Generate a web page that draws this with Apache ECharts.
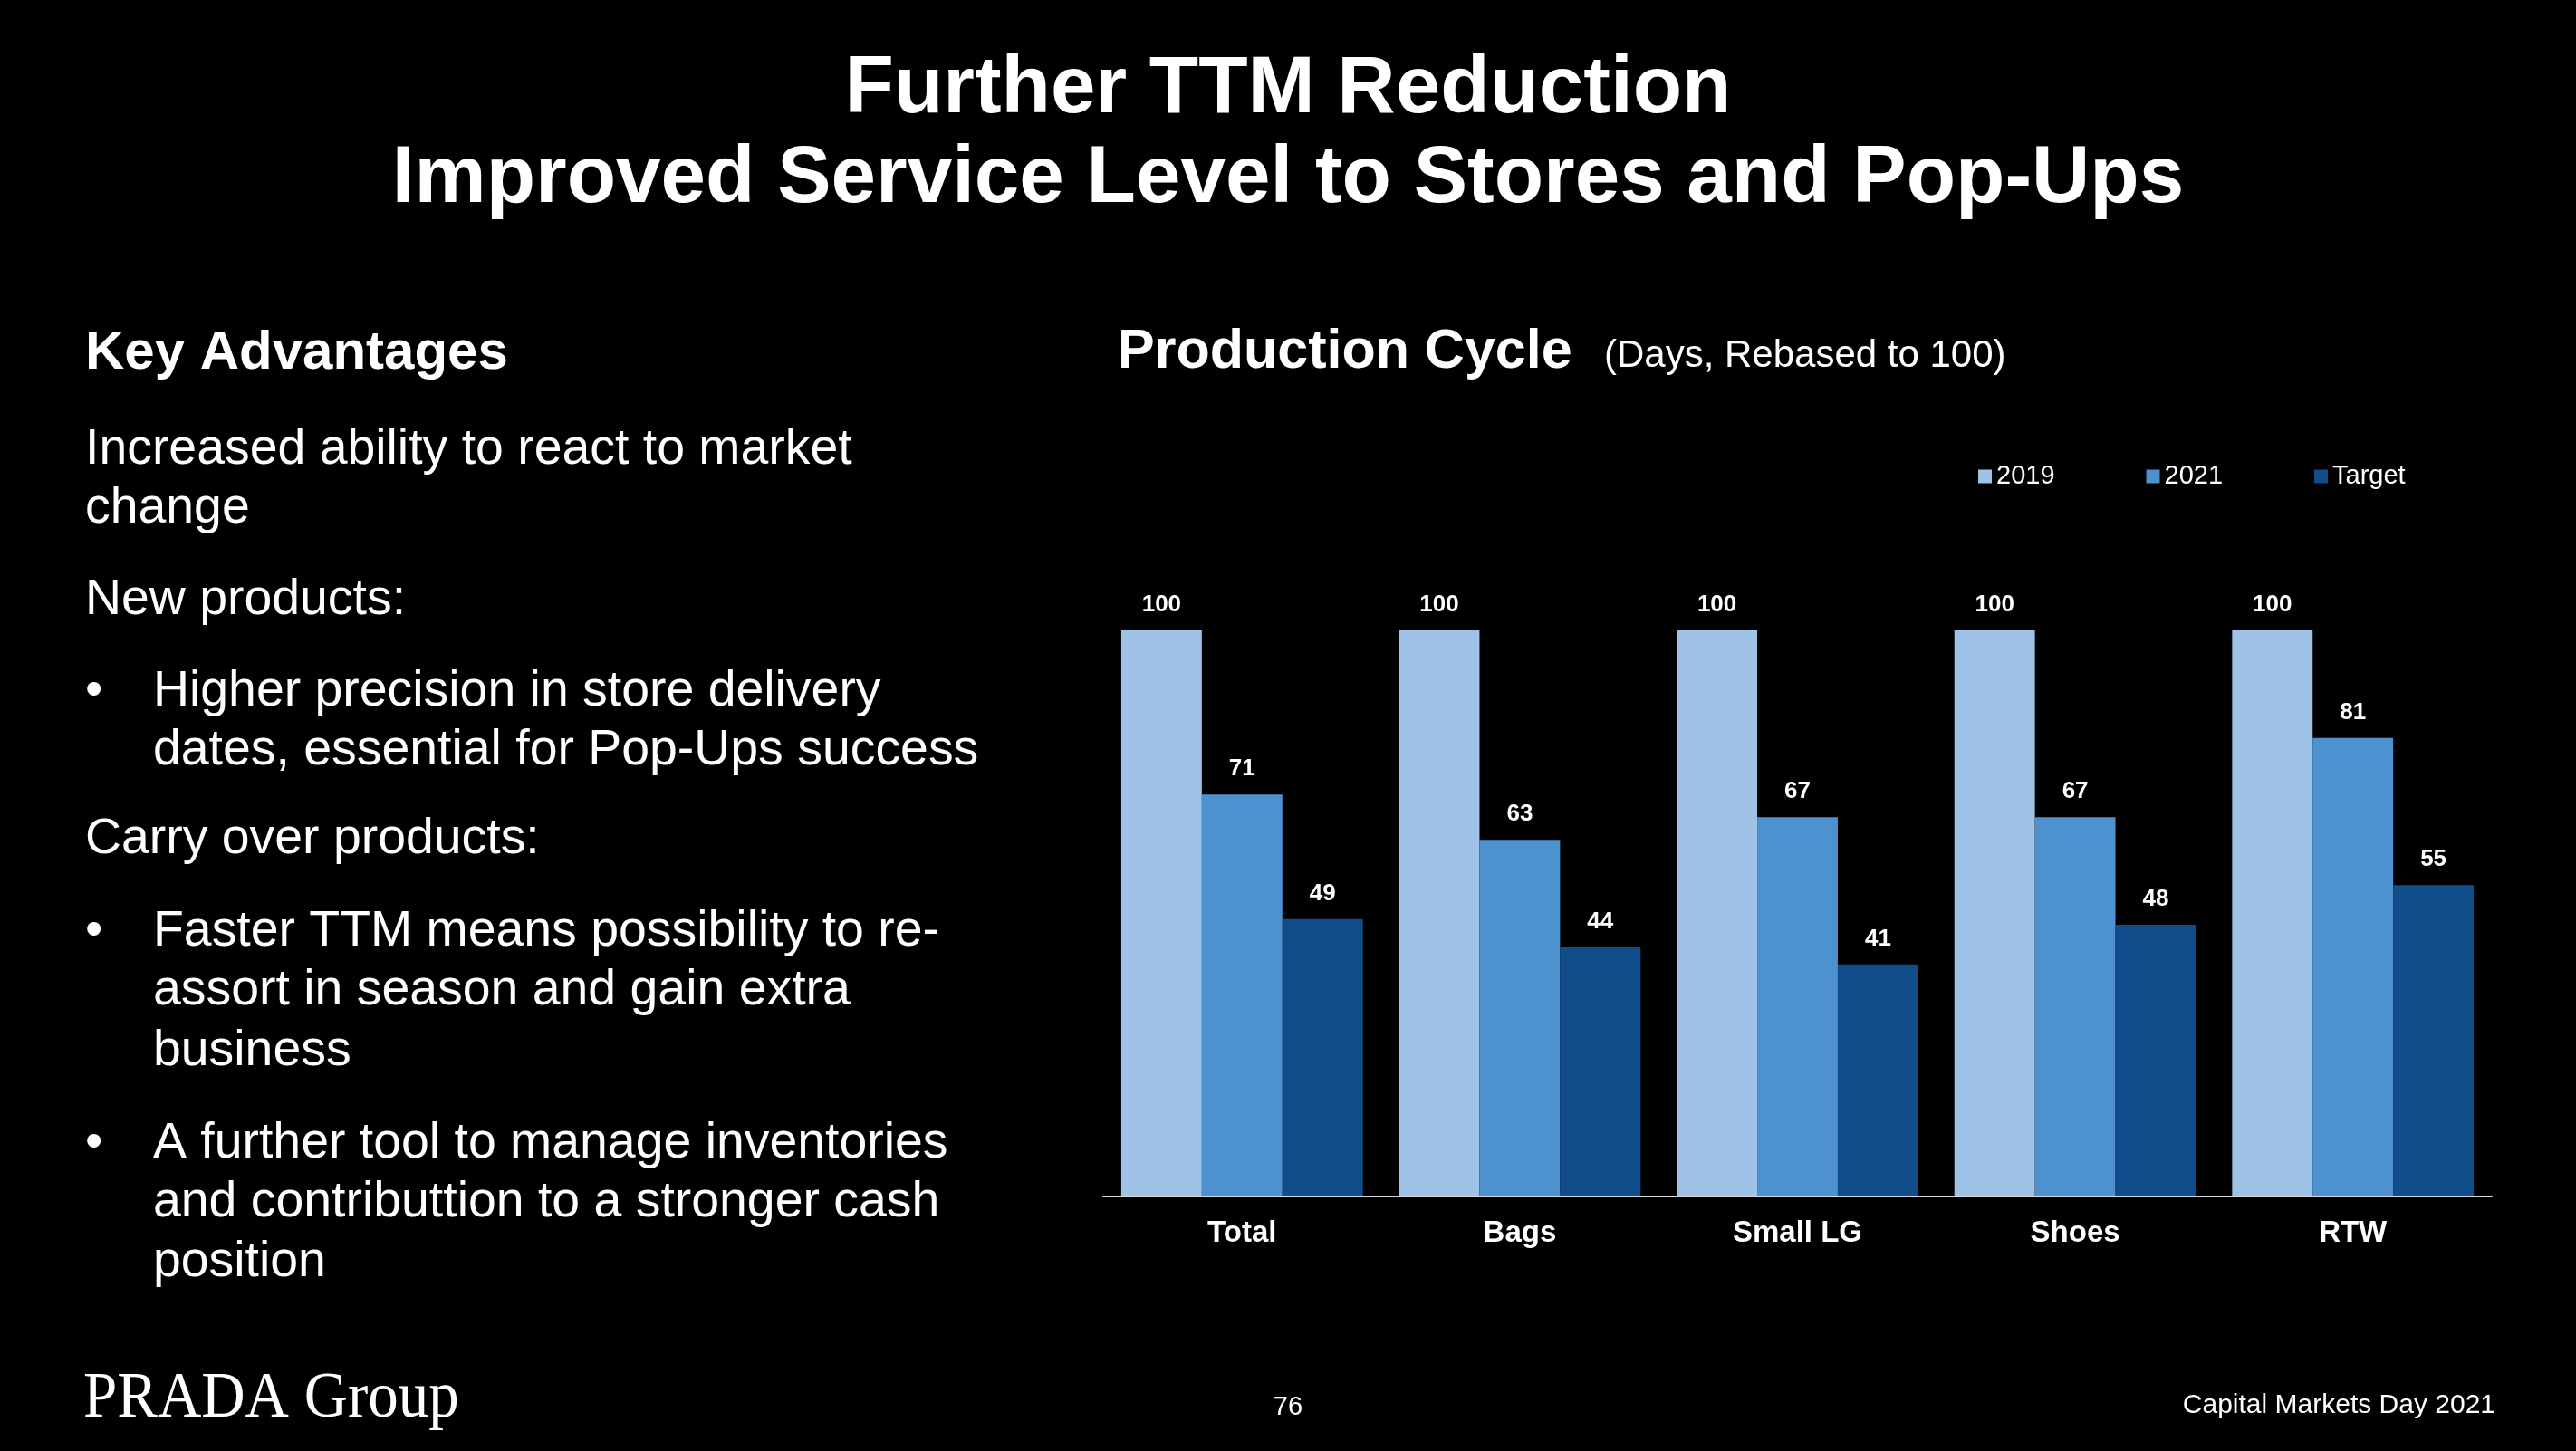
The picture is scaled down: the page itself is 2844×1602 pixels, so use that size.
<!DOCTYPE html>
<html>
<head>
<meta charset="utf-8">
<style>
  html, body { margin: 0; padding: 0; background: #000; }
  #chart { width: 2844px; height: 1602px; }
</style>
<script src="https://cdn.jsdelivr.net/npm/echarts@6/dist/echarts.min.js"></script>
</head>
<body>
<div id="chart"></div>
<script>
// ---- Data ----
var categories = ['Total', 'Bags', 'Small LG', 'Shoes', 'RTW'];
var seriesNames = ['2019', '2021', 'Target'];
var values2019 = [100, 100, 100, 100, 100];
var values2021 = [71, 63, 67, 67, 81];
var valuesTarget = [49, 44, 41, 48, 55];

var titleLines = ['Further TTM Reduction', 'Improved Service Level to Stores and Pop-Ups'];
var chartTitle = 'Production Cycle';
var chartSubtitle = '(Days, Rebased to 100)';
var sideHeading = 'Key Advantages';
// [text, kind]
var sideLines = [
  ['Increased ability to react to market', false],
  ['change', false],
  ['New products:', false],
  ['Higher precision in store delivery', true],
  ['dates, essential for Pop-Ups success', 'cont'],
  ['Carry over products:', false],
  ['Faster TTM means possibility to re-', true],
  ['assort in season and gain extra', 'cont'],
  ['business', 'cont'],
  ['A further tool to manage inventories', true],
  ['and contributtion to a stronger cash', 'cont'],
  ['position', 'cont']
];
var footerLogo = 'PRADA Group';
var footerPage = '76';
var footerEvent = 'Capital Markets Day 2021';

// ---- Layout (positions, styles) ----
var SANS = "'Liberation Sans', Arial, Helvetica, sans-serif";
var SERIF = "'Liberation Serif', 'Times New Roman', serif";
var colors = ['#9FC3E7', '#4D92CF', '#124D8B'];
var sideBaselines = [511, 576, 677, 778, 843, 941, 1043, 1108, 1175, 1277, 1342, 1408];

function mid(baseline, size) { return baseline - 0.265 * size; }

function txt(text, x, baseline, size, weight, align, family) {
  return {
    type: 'text',
    x: x,
    y: mid(baseline, size),
    silent: true,
    style: {
      text: text,
      fill: '#ffffff',
      font: (weight || 'normal') + ' ' + size + 'px ' + (family || SANS),
      textAlign: align || 'left',
      textVerticalAlign: 'middle'
    }
  };
}

var graphics = [];
graphics.push(txt(titleLines[0], 1422, 123, 89, 'bold', 'center'));
graphics.push(txt(titleLines[1], 1422, 222, 89, 'bold', 'center'));
graphics.push(txt(sideHeading, 94, 406, 60, 'bold'));
graphics.push(txt(chartTitle, 1234, 405, 61, 'bold'));
graphics.push(txt(chartSubtitle, 1771, 405, 42, 'normal'));
sideLines.forEach(function (l, i) {
  var b = sideBaselines[i];
  if (l[1] === true) {
    graphics.push(txt('\u2022', 94, b, 55.4, 'normal'));
    graphics.push(txt(l[0], 169, b, 55.4, 'normal'));
  } else if (l[1] === 'cont') {
    graphics.push(txt(l[0], 169, b, 55.4, 'normal'));
  } else {
    graphics.push(txt(l[0], 94, b, 55.4, 'normal'));
  }
});
var logo = txt(footerLogo, 92, 1564, 72, 'normal', 'left', SERIF);
logo.scaleX = 0.93;
graphics.push(logo);
graphics.push(txt(footerPage, 1422, 1562, 29, 'normal', 'center'));
graphics.push(txt(footerEvent, 2755, 1560, 30, 'normal', 'right'));

var chart = echarts.init(document.getElementById('chart'), null, { renderer: 'canvas' });

var dataSets = [values2019, values2021, valuesTarget];
var series = dataSets.map(function (d, i) {
  return {
    name: seriesNames[i],
    type: 'bar',
    data: d,
    barGap: '0%',
    barCategoryGap: '13%',
    itemStyle: { color: colors[i] },
    label: {
      show: true,
      position: 'top',
      distance: 15,
      color: '#ffffff',
      fontFamily: SANS,
      fontWeight: 'bold',
      fontSize: 26
    },
    emphasis: { disabled: true },
    animation: false
  };
});

chart.setOption({
  backgroundColor: '#000000',
  animation: false,
  textStyle: { fontFamily: SANS },
  graphic: graphics,
  legend: {
    data: seriesNames,
    left: 2184,
    top: 511,
    padding: 0,
    icon: 'rect',
    itemWidth: 15,
    itemHeight: 15,
    itemGap: 101,
    selectedMode: false,
    textStyle: { color: '#ffffff', fontSize: 29, lineHeight: 30, fontFamily: SANS }
  },
  grid: { left: 1218, right: 93, top: 696, bottom: 281, containLabel: false },
  xAxis: {
    type: 'category',
    data: categories,
    axisLine: { show: true, lineStyle: { color: '#d9d9d9', width: 2 } },
    axisTick: { show: false },
    axisLabel: {
      color: '#ffffff',
      fontSize: 33,
      fontWeight: 'bold',
      fontFamily: SANS,
      margin: 24,
      interval: 0
    }
  },
  yAxis: {
    type: 'value',
    min: 0,
    max: 100,
    show: false,
    splitLine: { show: false }
  },
  series: series
});
</script>
</body>
</html>
